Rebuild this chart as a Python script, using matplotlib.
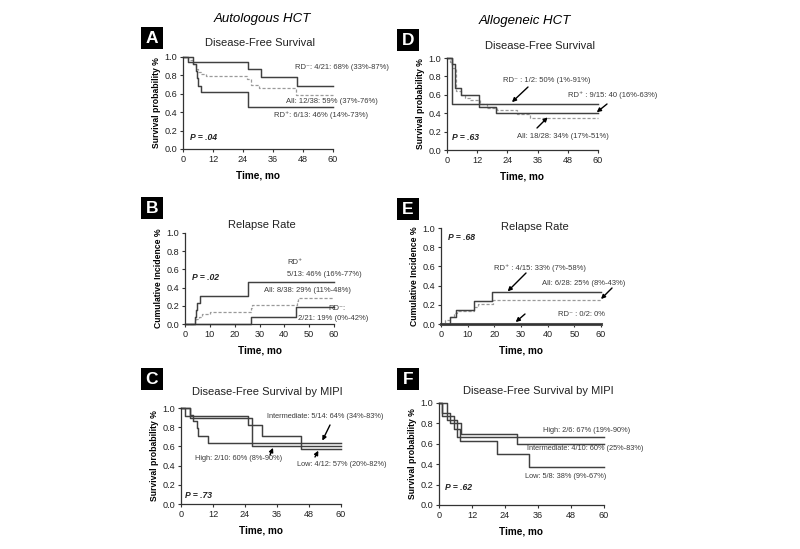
import matplotlib
matplotlib.use("Agg")
import matplotlib.pyplot as plt
from matplotlib.patches import Rectangle

plt.rcParams['font.family'] = ['Liberation Sans', 'DejaVu Sans']

W, H = 800, 549

# ---------------- data ----------------
# Panel A: Autologous, disease-free survival
a_rdneg_t = [0, 2, 26, 31, 45.5]
a_rdneg_s = [1.0, 0.95, 0.87, 0.78, 0.68]
a_rdpos_t = [0, 4, 5, 5.5, 6, 7, 26]
a_rdpos_s = [1.0, 0.92, 0.85, 0.77, 0.69, 0.62, 0.46]
a_all_t = [0, 2, 4, 5, 6, 7, 9, 25.5, 27, 30.5, 45]
a_all_s = [1.0, 0.97, 0.92, 0.87, 0.84, 0.81, 0.79, 0.76, 0.70, 0.66, 0.59]

# Panel B: Autologous, relapse rate (cumulative incidence)
b_rdpos_t = [0, 4, 4.5, 5, 6, 25.5]
b_rdpos_c = [0, 0.08, 0.15, 0.23, 0.31, 0.46]
b_rdneg_t = [0, 26.5, 44.5]
b_rdneg_c = [0, 0.08, 0.19]
b_all_t = [0, 4, 4.5, 5.5, 7, 10, 26.5, 27, 45, 45.5]
b_all_c = [0, 0.03, 0.05, 0.08, 0.11, 0.13, 0.18, 0.21, 0.25, 0.29]

# Panel C: Autologous, DFS by MIPI
c_int_t = [0, 3.4, 4.6, 5.9, 6.5, 10.2]
c_int_s = [1.0, 0.93, 0.86, 0.79, 0.71, 0.64]
c_high_t = [0, 3.4, 26.5]
c_high_s = [1.0, 0.90, 0.60]
c_low_t = [0, 1.5, 25, 30.5, 45]
c_low_s = [1.0, 0.92, 0.82, 0.71, 0.57]

# Panel D: Allogeneic, disease-free survival
d_rdpos_t = [0, 1.9, 3.2, 5.4, 12.6, 19.3]
d_rdpos_s = [1.0, 0.93, 0.67, 0.60, 0.47, 0.40]
d_rdneg_t = [0, 1.9]
d_rdneg_s = [1.0, 0.50]
d_all_t = [0, 1.3, 2.0, 3.5, 5.5, 7, 9, 13, 16, 20, 28, 33]
d_all_s = [1.0, 0.96, 0.89, 0.64, 0.60, 0.57, 0.54, 0.50, 0.46, 0.43, 0.39, 0.345]

# Panel E: Allogeneic, relapse rate
e_rdpos_t = [0, 3.4, 5.6, 12.5, 19]
e_rdpos_c = [0, 0.07, 0.15, 0.24, 0.33]
e_all_t = [0, 1.5, 3.4, 5, 6, 12.5, 14, 19.5]
e_all_c = [0, 0.04, 0.07, 0.11, 0.14, 0.18, 0.21, 0.25]
e_rdneg_t = [0]
e_rdneg_c = [0]

# Panel F: Allogeneic, DFS by MIPI
f_high_t = [0, 3, 6.5]
f_high_s = [1.0, 0.83, 0.67]
f_int_t = [0, 1, 4, 8, 28.5]
f_int_s = [1.0, 0.90, 0.80, 0.70, 0.60]
f_low_t = [0, 1, 5.5, 7.5, 21.2, 32.7]
f_low_s = [1.0, 0.875, 0.75, 0.625, 0.50, 0.375]

XMAX = 60

# ---------------- helpers ----------------
fig = plt.figure(figsize=(W / 100, H / 100), dpi=100)


def fx(x):
    return x / W


def fy(y):
    return 1 - y / H


def make_axes(x0, y0, x1, y1, xticks, ylabel):
    ax = fig.add_axes([fx(x0), fy(y1), fx(x1 - x0), (y1 - y0) / H])
    ax.set_xlim(0, XMAX)
    ax.set_ylim(0, 1.0)
    ax.set_xticks(xticks)
    ax.set_yticks([0, 0.2, 0.4, 0.6, 0.8, 1.0])
    ax.set_yticklabels(['0.0', '0.2', '0.4', '0.6', '0.8', '1.0'])
    for s in ['top', 'right']:
        ax.spines[s].set_visible(False)
    for s in ['left', 'bottom']:
        ax.spines[s].set_color('#333333')
        ax.spines[s].set_linewidth(0.9)
    ax.tick_params(labelsize=6.6, length=2.5, width=0.8, pad=1.5,
                   colors='#333333', labelcolor='#222222')
    ax.set_xlabel('Time, mo', fontsize=7.2, fontweight='bold', labelpad=5)
    ax.set_ylabel(ylabel, fontsize=6.2, fontweight='bold', labelpad=3)
    return ax


def step(ax, t, v, style='solid', color='#404040', lw=1.05):
    tt = list(t) + [XMAX]
    vv = list(v) + [v[-1]]
    if style == 'dashed':
        ax.plot(tt, vv, drawstyle='steps-post', color='#9a9a9a', lw=0.9,
                ls=(0, (2.5, 1.5)), clip_on=False)
    else:
        ax.plot(tt, vv, drawstyle='steps-post', color=color, lw=lw,
                clip_on=False)


def ftext(x, y, s, size=5.5, ha='left', va='center', **kw):
    fig.text(fx(x), fy(y), s, fontsize=size, ha=ha, va=va,
             color=kw.pop('color', '#3a3a3a'), **kw)


def arrow(ax, x_from, y_from, xy):
    ax.annotate('', xy=xy, xycoords='data',
                xytext=(fx(x_from), fy(y_from)), textcoords='figure fraction',
                arrowprops=dict(arrowstyle='-|>', lw=1.0, color='black',
                                mutation_scale=6, shrinkA=0, shrinkB=0),
                annotation_clip=False)


def letter(x0, y0, s):
    fig.patches.append(Rectangle((fx(x0), fy(y0 + 22)), 22 / W, 22 / H,
                                 transform=fig.transFigure,
                                 facecolor='black', edgecolor='none'))
    fig.text(fx(x0 + 11), fy(y0 + 11.5), s, color='white', fontsize=12.5,
             fontweight='bold', ha='center', va='center')


SURV = 'Survival probability %'
CUM = 'Cumulative Incidence %'

# ---------------- column headers ----------------
ftext(262, 19, 'Autologous HCT', size=9.5, ha='center', style='italic', color='black')
ftext(525, 21, 'Allogeneic HCT', size=9.5, ha='center', style='italic', color='black')

# ---------------- Panel A ----------------
axA = make_axes(183, 57, 333, 149, [0, 12, 24, 36, 48, 60], SURV)
step(axA, a_all_t, a_all_s, 'dashed')
step(axA, a_rdneg_t, a_rdneg_s)
step(axA, a_rdpos_t, a_rdpos_s)
letter(141, 27, 'A')
ftext(260, 43, 'Disease-Free Survival', size=8, ha='center', color='#222222')
ftext(295, 67, 'RD\u207b: 4/21: 68% (33%-87%)')
ftext(286, 101, 'All: 12/38: 59% (37%-76%)')
ftext(274, 115, 'RD\u207a: 6/13: 46% (14%-73%)')
ftext(190, 137, 'P = .04', size=6.2, fontweight='bold', style='italic', color='#222222')

# ---------------- Panel B ----------------
axB = make_axes(185, 233, 334, 324, [0, 10, 20, 30, 40, 50, 60], CUM)
step(axB, b_all_t, b_all_c, 'dashed')
step(axB, b_rdneg_t, b_rdneg_c)
step(axB, b_rdpos_t, b_rdpos_c)
letter(141, 197, 'B')
ftext(262, 225, 'Relapse Rate', size=8, ha='center', color='#222222')
ftext(287, 263, 'RD\u207a')
ftext(287, 274, '5/13: 46% (16%-77%)')
ftext(264, 290, 'All: 8/38: 29% (11%-48%)')
ftext(328, 309, 'RD\u207b:')
ftext(298, 319, '2/21: 19% (0%-42%)')
ftext(192, 278, 'P = .02', size=6.2, fontweight='bold', style='italic', color='#222222')

# ---------------- Panel C ----------------
axC = make_axes(181, 408, 341, 504, [0, 12, 24, 36, 48, 60], SURV)
step(axC, c_low_t, c_low_s)
step(axC, c_high_t, c_high_s)
step(axC, c_int_t, c_int_s)
letter(141, 368, 'C')
ftext(267, 392, 'Disease-Free Survival by MIPI', size=8, ha='center', color='#222222')
ftext(267, 417, 'Intermediate: 5/14: 64% (34%-83%)', size=5.3)
ftext(195, 459, 'High: 2/10: 60% (8%-90%)', size=5.3)
ftext(297, 464, 'Low: 4/12: 57% (20%-82%)', size=5.3)
arrow(axC, 330, 425, (53, 0.66))
arrow(axC, 270, 455, (34.5, 0.585))
arrow(axC, 315, 457, (51.5, 0.555))
ftext(185, 496, 'P = .73', size=6.2, fontweight='bold', style='italic', color='#222222')

# ---------------- Panel D ----------------
axD = make_axes(447, 58, 598, 150, [0, 12, 24, 36, 48, 60], SURV)
step(axD, d_all_t, d_all_s, 'dashed')
step(axD, d_rdneg_t, d_rdneg_s)
step(axD, d_rdpos_t, d_rdpos_s)
letter(397, 29, 'D')
ftext(540, 46, 'Disease-Free Survival', size=8, ha='center', color='#222222')
ftext(503, 80, 'RD\u207b : 1/2: 50% (1%-91%)')
ftext(568, 95, 'RD\u207a : 9/15: 40 (16%-63%)')
ftext(517, 137, 'All: 18/28: 34% (17%-51%)')
arrow(axD, 528, 87, (25.8, 0.52))
arrow(axD, 607, 104, (59.5, 0.41))
arrow(axD, 537, 128, (40, 0.355))
ftext(452, 137, 'P = .63', size=6.2, fontweight='bold', style='italic', color='#222222')

# ---------------- Panel E ----------------
axE = make_axes(441, 228, 601, 324, [0, 10, 20, 30, 40, 50, 60], CUM)
step(axE, e_all_t, e_all_c, 'dashed')
step(axE, e_rdneg_t, e_rdneg_c, lw=2.2, color='#555555')
step(axE, e_rdpos_t, e_rdpos_c)
letter(397, 198, 'E')
ftext(535, 227, 'Relapse Rate', size=8, ha='center', color='#222222')
ftext(494, 268, 'RD\u207a : 4/15: 33% (7%-58%)')
ftext(542, 283, 'All: 6/28: 25% (8%-43%)')
ftext(558, 315, 'RD\u207b : 0/2: 0%')
arrow(axE, 526, 273, (25, 0.34))
arrow(axE, 612, 288, (60, 0.26))
arrow(axE, 525, 314, (28, 0.02))
ftext(448, 237, 'P = .68', size=6.2, fontweight='bold', style='italic', color='#222222')

# ---------------- Panel F ----------------
axF = make_axes(439, 403, 604, 505, [0, 12, 24, 36, 48, 60], SURV)
step(axF, f_low_t, f_low_s)
step(axF, f_int_t, f_int_s)
step(axF, f_high_t, f_high_s)
letter(397, 368, 'F')
ftext(538, 391, 'Disease-Free Survival by MIPI', size=8, ha='center', color='#222222')
ftext(543, 431, 'High: 2/6: 67% (19%-90%)', size=5.3)
ftext(527, 449, 'Intermediate: 4/10: 60% (25%-83%)', size=5.3)
ftext(525, 476, 'Low: 5/8: 38% (9%-67%)', size=5.3)
ftext(445, 488, 'P = .62', size=6.2, fontweight='bold', style='italic', color='#222222')

fig.savefig('out.png', dpi=100, facecolor='white')
